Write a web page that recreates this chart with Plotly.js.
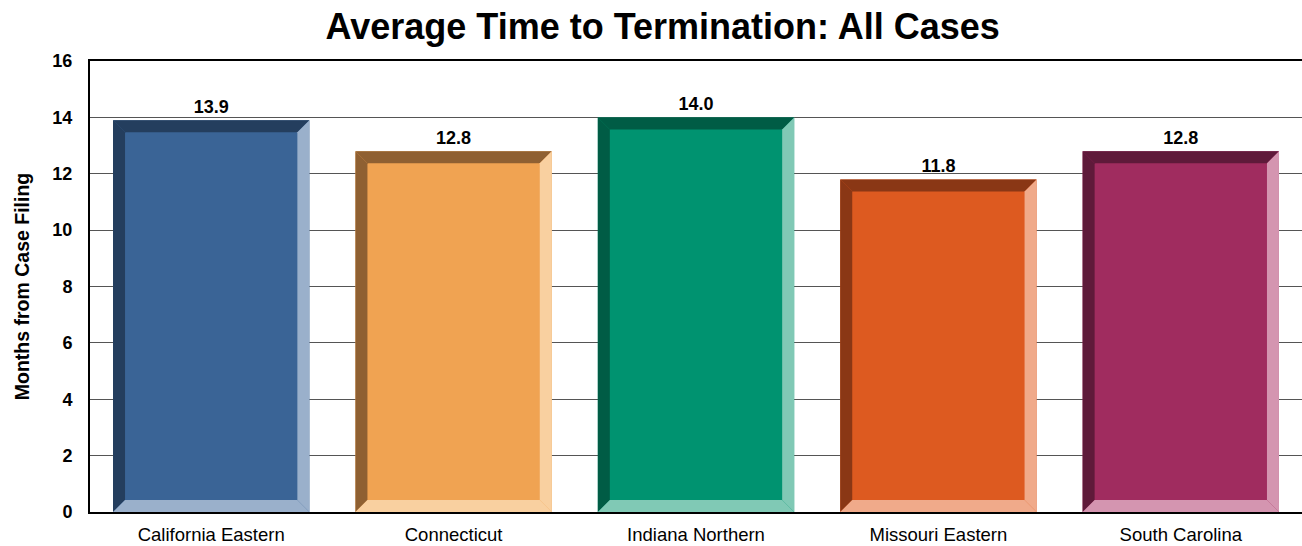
<!DOCTYPE html>
<html><head><meta charset="utf-8">
<script src="https://cdn.plot.ly/plotly-3.0.1.min.js"></script>
<style>html,body{margin:0;padding:0;background:#fff}#c{width:1302px;height:546px}</style>
</head><body><div id="c"></div>
<script>
var categories = ["California Eastern","Connecticut","Indiana Northern","Missouri Eastern","South Carolina"];
var values = [13.9, 12.8, 14.0, 11.8, 12.8];
var valueLabels = ["13.9","12.8","14.0","11.8","12.8"];
var faceColors = ["#3A6496","#F0A352","#009370","#DD5A20","#A02C5F"];
var darkColors = ["#243E5E","#8F6032","#005C45","#8A3715","#5F1A3A"];
var lightColors = ["#9AB0CB","#F9D0A0","#80C9B5","#F0AA8A","#D495B0"];
var yTicks = [0,2,4,6,8,10,12,14,16];

var W = 1302, H = 546, mL = 90, mR = 0, mT = 61, mB = 34;
var barWidth = 0.81;
var n = categories.length;
var yMax = 16;
var pxPerX = (W - mL - mR) / n;
var pxPerY = (H - mT - mB) / yMax;
var bevPx = 12;
var bx = bevPx / pxPerX, by = bevPx / pxPerY;
var FONT = 'Arial, Liberation Sans, sans-serif';

var shapes = [];
function poly(pts, color) {
  var d = pts.map(function(p, i){ return (i ? 'L' : 'M') + p[0] + ',' + p[1]; }).join(' ') + ' Z';
  shapes.push({type:'path', xref:'x', yref:'y', path:d, fillcolor:color, line:{width:0}, layer:'above'});
}
values.forEach(function(v, i) {
  var x0 = i - barWidth/2, x1 = i + barWidth/2;
  poly([[x0,0],[x0,v],[x0+bx,v-by],[x0+bx,by]], darkColors[i]);
  poly([[x0,v],[x1,v],[x1-bx,v-by],[x0+bx,v-by]], darkColors[i]);
  poly([[x1,v],[x1,0],[x1-bx,by],[x1-bx,v-by]], lightColors[i]);
  poly([[x0,0],[x1,0],[x1-bx,by],[x0+bx,by]], lightColors[i]);
});

var trace = {
  type:'bar',
  x: categories.map(function(c,i){return i;}),
  y: values,
  width: barWidth,
  marker:{color: faceColors, line:{width:0}},
  text: valueLabels,
  textposition:'outside',
  textfont:{family:FONT, size:18, color:'#000', weight:'bold'},
  cliponaxis:false,
  hoverinfo:'x+y'
};

var layout = {
  width: W, height: H,
  margin:{l:mL, r:mR, t:mT, b:mB, pad:0},
  paper_bgcolor:'#fff', plot_bgcolor:'#fff',
  showlegend:false,
  title:{text:'<b>Average Time to Termination: All Cases</b>', x:0.509, xanchor:'center', y:0.952, yanchor:'middle',
    font:{family:FONT, size:36, color:'#000'}},
  xaxis:{
    range:[-0.5, n-0.5],
    tickvals: categories.map(function(c,i){return i;}),
    ticktext: categories,
    showgrid:false, zeroline:false,
    showline:true, linecolor:'#000', linewidth:2, mirror:true,
    ticks:'', ticklabelstandoff:5,
    tickfont:{family:FONT, size:18.5, color:'#000'},
    fixedrange:true
  },
  yaxis:{
    range:[0, yMax],
    tickvals: yTicks,
    ticktext: yTicks.map(String),
    showgrid:true, gridcolor:'#555555', gridwidth:1,
    zeroline:false,
    showline:true, linecolor:'#000', linewidth:2,
    ticks:'', ticklabelstandoff:12,
    tickfont:{family:FONT, size:18, color:'#000', weight:'bold'},
    title:{text:'<b>Months from Case Filing</b>', standoff:18,
      font:{family:FONT, size:19.5, color:'#000'}},
    fixedrange:true
  },
  shapes: shapes,
  bargap: 0.19
};

Plotly.newPlot('c', [trace], layout, {displayModeBar:false, staticPlot:true});
</script>
</body></html>
